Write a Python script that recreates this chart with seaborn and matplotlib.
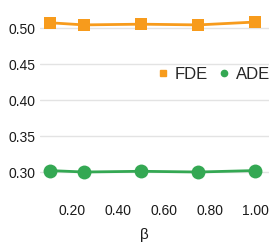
import pandas as pd
import matplotlib
matplotlib.use("Agg")
import matplotlib.pyplot as plt
from matplotlib.lines import Line2D
import seaborn as sns

beta = [0.1, 0.25, 0.5, 0.75, 1.0]
fde = [0.508, 0.505, 0.506, 0.505, 0.509]
ade = [0.302, 0.300, 0.301, 0.300, 0.302]

orange = '#F79B1C'
green = '#34A853'

sns.set_style('white')
plt.rcParams['font.family'] = ['Liberation Sans', 'DejaVu Sans']

df = pd.DataFrame({'beta': beta, 'FDE': fde, 'ADE': ade})

fig = plt.figure(figsize=(2.69, 2.43), dpi=100)
ax = fig.add_axes([0.149, 0.177, 0.851, 0.823])

sns.lineplot(data=df, x='beta', y='FDE', ax=ax, color=orange, marker='s',
             markersize=8, markeredgewidth=0, linewidth=2)
sns.lineplot(data=df, x='beta', y='ADE', ax=ax, color=green, marker='o',
             markersize=10, markeredgewidth=0, linewidth=2)

ax.set_xlim(0.058, 1.06)
ax.set_ylim(0.261, 0.5397)
ax.set_xticks([0.2, 0.4, 0.6, 0.8, 1.0])
ax.set_xticklabels(['0.20', '0.40', '0.60', '0.80', '1.00'])
ax.set_yticks([0.30, 0.35, 0.40, 0.45, 0.50])
ax.set_yticklabels(['0.30', '0.35', '0.40', '0.45', '0.50'])
ax.tick_params(axis='both', length=0, labelsize=10, colors='#1a1a1a', pad=3)
ax.grid(axis='y', color='#e3e3e3', linewidth=1)
ax.set_axisbelow(True)
for s in ax.spines.values():
    s.set_visible(False)
ax.set_ylabel('')
ax.set_xlabel('β', fontsize=11, color='#1a1a1a', labelpad=0)
ax.xaxis.set_label_coords(0.454, -0.14)

handles = [Line2D([], [], color=orange, marker='s', linestyle='', markersize=4),
           Line2D([], [], color=green, marker='o', linestyle='', markersize=4.5)]
ax.legend(handles, ['FDE', 'ADE'], ncol=2, frameon=False, fontsize=12,
          loc='center right', bbox_to_anchor=(1.07, 0.628),
          handlelength=0.8, handletextpad=0.3, columnspacing=0.6)

plt.savefig('out.png', dpi=100)
